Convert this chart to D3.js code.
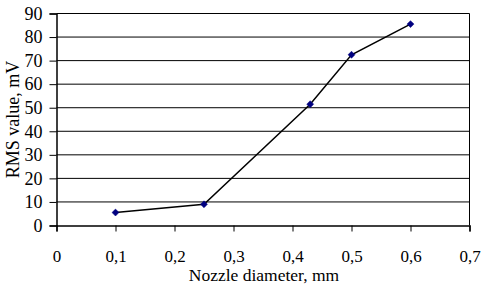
<!DOCTYPE html>
<html><head><meta charset="utf-8">
<script src="https://cdn.jsdelivr.net/npm/d3@7"></script>
<style>body{margin:0;background:#fff}svg{display:block}svg text{font-family:"Liberation Serif","Times New Roman",serif !important;fill:#000}</style>
</head><body><svg id="c" width="482" height="285"></svg>
<script>
const diameters = [0.1, 0.25, 0.43, 0.5, 0.6];
const rmsValues = [5.5, 9, 51.5, 72.5, 85.5];
const xTicks = [0, 0.1, 0.2, 0.3, 0.4, 0.5, 0.6, 0.7];
const yTicks = [0, 10, 20, 30, 40, 50, 60, 70, 80, 90];
const xTitle = "Nozzle diameter, mm";
const yTitle = "RMS value, mV";

const svg = d3.select("#c");
const L = 56.5, R = 469.5, T = 13.5, B = 225.5;
const x = d3.scaleLinear().domain([0, 0.7]).range([L, R]);
const y = d3.scaleLinear().domain([0, 90]).range([B, T]);
const fmt = d => String(d).replace(".", ",");
const FS = "18px";

// gridlines
svg.append("g").selectAll("line").data(yTicks.filter(d => d > 0)).join("line")
  .attr("x1", L).attr("x2", R).attr("y1", d => y(d)).attr("y2", d => y(d))
  .attr("stroke", "#000").attr("stroke-width", 1);
// right border
svg.append("line").attr("x1", R).attr("x2", R).attr("y1", T).attr("y2", B).attr("stroke", "#000");

// y axis
const ya = svg.append("g").attr("transform", `translate(${L},0)`)
  .call(d3.axisLeft(y).tickValues(yTicks).tickFormat(d => d).tickSizeOuter(0).tickSize(7).tickPadding(7));
ya.attr("font-family", null);
ya.select(".domain").attr("stroke", "#000").attr("stroke-width", 1.5);
ya.selectAll("text").style("font-size", FS);

// x axis
const xa = svg.append("g").attr("transform", `translate(0,${B})`)
  .call(d3.axisBottom(x).tickValues(xTicks).tickFormat(fmt).tickSizeOuter(0).tickSize(6).tickPadding(18));
xa.attr("font-family", null);
xa.select(".domain").attr("stroke", "#000").attr("stroke-width", 1.5);
xa.selectAll("text").style("font-size", "17px");

// line
const pts = diameters.map((d, i) => [d, rmsValues[i]]);
svg.append("path").datum(pts)
  .attr("fill", "none").attr("stroke", "#000").attr("stroke-width", 1.5)
  .attr("d", d3.line().x(d => x(d[0])).y(d => y(d[1])));
svg.append("g").selectAll("path").data(pts).join("path")
  .attr("transform", d => `translate(${x(d[0])},${y(d[1])}) rotate(45)`)
  .attr("d", d3.symbol(d3.symbolSquare, 24)())
  .attr("fill", "#000080").attr("stroke", "#000080").attr("stroke-width", 0.5);

// titles
svg.append("text").attr("x", (L + R) / 2 + 1).attr("y", 281).attr("text-anchor", "middle")
  .style("font-size", "17.5px").text(xTitle);
svg.append("text").attr("transform", `translate(19,${(T + B) / 2}) rotate(-90)`).attr("text-anchor", "middle")
  .style("font-size", FS).text(yTitle);
</script></body></html>
